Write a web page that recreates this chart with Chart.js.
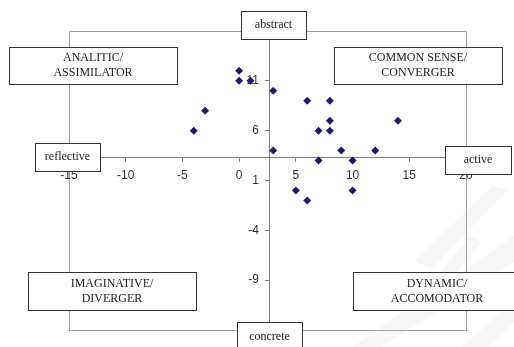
<!DOCTYPE html>
<html>
<head>
	<meta charset="UTF-8">
	<title>Learning styles scatter</title>
	<script src="https://cdn.jsdelivr.net/npm/chart.js"></script>
	<style>
		body { margin: 0; background: #fff; }
		#wrap { position: relative; width: 514px; height: 347px; overflow: hidden; }
	</style>
</head>
<body>
	<div id="wrap">
		<canvas id="chart" width="514" height="347"></canvas>
	</div>

	<script>
		// active/reflective (x) vs abstract/concrete (y), one point per student
		const activeReflective = [0, 0, 1, -3, -4, 3, 6, 8, 8, 7, 8, 14, 3, 9, 12, 7, 10, 5, 6, 10];
		const abstractConcrete = [12, 11, 11, 8, 6, 10, 9, 9, 7, 6, 6, 7, 4, 4, 4, 3, 3, 0, -1, 0];
		const xTicks = [-15, -10, -5, 0, 5, 10, 15, 20];
		const yTicks = [-14, -9, -4, 1, 6, 11, 16];
		// where the axes cross each other
		const xAxisAt = 3.27;
		const yAxisAt = 2.71;

		const points = activeReflective.map((x, i) => ({ x: x, y: abstractConcrete[i] }));

		// text boxes laid on top, pixel layout of the original
		const boxes = [
			{ lines: ['abstract'], x: 241, y: 11, w: 65, h: 28 },
			{ lines: ['concrete'], x: 237, y: 322, w: 65, h: 30 },
			{ lines: ['reflective'], x: 35, y: 143, w: 65, h: 28 },
			{ lines: ['active'], x: 445, y: 146, w: 66, h: 28 },
			{ lines: ['ANALITIC/', 'ASSIMILATOR'], x: 9, y: 47, w: 168, h: 37 },
			{ lines: ['COMMON SENSE/', 'CONVERGER'], x: 334, y: 47, w: 168, h: 37 },
			{ lines: ['IMAGINATIVE/', 'DIVERGER'], x: 28, y: 272, w: 168, h: 38 },
			{ lines: ['DYNAMIC/', 'ACCOMODATOR'], x: 353, y: 272, w: 168, h: 38 }
		];

		const tickFont = '12px "Liberation Sans", Arial, sans-serif';

		const backdrop = {
			id: 'backdrop',
			beforeDraw(chart) {
				const ctx = chart.ctx;
				const a = chart.chartArea;
				ctx.save();
				// faint watermark strips bottom right
				ctx.fillStyle = 'rgba(0,0,0,0.03)';
				const strips = [
					[[492, 186], [508, 190], [432, 268], [414, 262]],
					[[514, 236], [514, 262], [382, 347], [352, 347]],
					[[514, 300], [514, 322], [488, 347], [462, 347]],
					[[470, 236], [482, 242], [452, 278], [440, 272]]
				];
				strips.forEach(s => {
					ctx.beginPath();
					ctx.moveTo(s[0][0], s[0][1]);
					for (let i = 1; i < s.length; i++) ctx.lineTo(s[i][0], s[i][1]);
					ctx.closePath();
					ctx.fill();
				});
				// plot area frame
				ctx.strokeStyle = '#a0a0a0';
				ctx.lineWidth = 1;
				ctx.strokeRect(Math.round(a.left) + 0.5, Math.round(a.top) + 0.5,
					Math.round(a.right - a.left), Math.round(a.bottom - a.top));
				ctx.restore();
			},
			beforeDatasetsDraw(chart) {
				// tick labels, placed off the crossing axes, under the markers
				const ctx = chart.ctx;
				const xs = chart.scales.x, ys = chart.scales.y;
				const axisY = ys.getPixelForValue(xAxisAt);
				const axisX = xs.getPixelForValue(yAxisAt);
				ctx.save();
				ctx.font = tickFont;
				ctx.fillStyle = '#333';
				ctx.textAlign = 'center';
				ctx.textBaseline = 'middle';
				xTicks.forEach(v => ctx.fillText(String(v), xs.getPixelForValue(v), axisY + 18));
				ctx.textAlign = 'right';
				yTicks.forEach(v => ctx.fillText(String(v), axisX - 11, ys.getPixelForValue(v)));
				ctx.restore();
			},
			afterDraw(chart) {
				const ctx = chart.ctx;
				ctx.save();
				ctx.font = '12px "Liberation Serif", "Times New Roman", serif';
				ctx.textAlign = 'center';
				ctx.textBaseline = 'middle';
				boxes.forEach(b => {
					ctx.fillStyle = '#fff';
					ctx.fillRect(b.x, b.y, b.w, b.h);
					ctx.strokeStyle = '#333';
					ctx.lineWidth = 1;
					ctx.strokeRect(b.x + 0.5, b.y + 0.5, b.w, b.h);
					ctx.fillStyle = '#222';
					const lh = 15;
					const top = b.y + b.h / 2 - (b.lines.length - 1) * lh / 2;
					b.lines.forEach((t, i) => ctx.fillText(t, b.x + b.w / 2, top + i * lh));
				});
				ctx.restore();
			}
		};

		const ctx = document.getElementById('chart').getContext('2d');
		new Chart(ctx, {
			type: 'scatter',
			data: {
				datasets: [{
					label: 'students',
					data: points,
					pointStyle: 'rectRot',
					pointRadius: 4,
					pointHoverRadius: 4,
					backgroundColor: '#1a1a70',
					borderColor: '#1a1a70',
					borderWidth: 0
				}]
			},
			options: {
				responsive: false,
				animation: false,
				events: [],
				layout: { padding: { left: 69, top: 31, right: 48, bottom: 17 } },
				plugins: {
					legend: { display: false },
					tooltip: { enabled: false }
				},
				scales: {
					x: {
						type: 'linear',
						min: -15,
						max: 20,
						position: { y: xAxisAt },
						afterBuildTicks: s => { s.ticks = xTicks.map(v => ({ value: v })); },
						grid: { drawOnChartArea: false, tickLength: 4, color: '#808080' },
						border: { color: '#808080' },
						ticks: { display: false }
					},
					y: {
						type: 'linear',
						min: -14,
						max: 16,
						position: { x: yAxisAt },
						afterBuildTicks: s => { s.ticks = yTicks.map(v => ({ value: v })); },
						grid: { drawOnChartArea: false, tickLength: 4, color: '#808080' },
						border: { color: '#808080' },
						ticks: { display: false }
					}
				}
			},
			plugins: [backdrop]
		});
	</script>
</body>
</html>
